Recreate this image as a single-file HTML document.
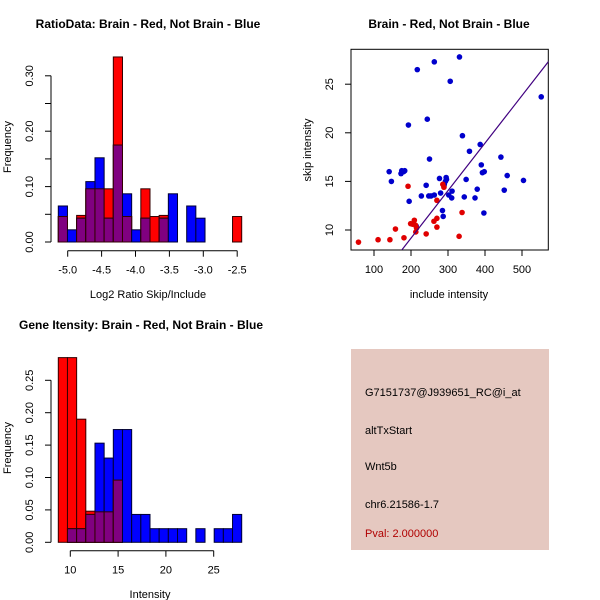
<!DOCTYPE html>
<html><head><meta charset="utf-8"><style>
html,body{margin:0;padding:0;background:#fff;}
svg{display:block;font-family:"Liberation Sans",sans-serif;}
</style></head><body>
<svg id="c" width="600" height="600" viewBox="0 0 600 600">
<rect x="0" y="0" width="600" height="600" fill="#fff"/>
<g id="p1"></g>
<g id="p2"></g>
<g id="p3"></g>
<g id="p4">
<rect x="351" y="349" width="198" height="201" fill="#e5c8c0"/>
<text x="365" y="396" font-size="11" fill="#000">G7151737@J939651_RC@i_at</text>
<text x="365" y="434" font-size="11" fill="#000">altTxStart</text>
<text x="365" y="470" font-size="11" fill="#000">Wnt5b</text>
<text x="365" y="508" font-size="11" fill="#000">chr6.21586-1.7</text>
<text x="365" y="537" font-size="11" fill="#b00000">Pval: 2.000000</text>
</g>
</svg>
<script>
// Panel 1 data: RatioData histogram (20 bins)
const ratioRed  = [0.046,0,0.048,0.096,0.096,0.096,0.334,0.046,0,0.096,0.046,0.048,0,0,0,0,0,0,0,0.046];
const ratioBlue = [0.065,0.022,0.043,0.109,0.152,0.043,0.175,0.087,0.022,0.043,0,0.043,0.087,0,0.065,0.043,0,0,0,0];
const ratioXTicks = [-5.0,-4.5,-4.0,-3.5,-3.0,-2.5];
const ratioYTicks = [0,0.05,0.10,0.15,0.20,0.25,0.30];
const ratioYLabels = ["0.00","","0.10","","0.20","","0.30"];
// Panel 2 data: scatter
const blueX = [331,263,217,306,552,244,193,339,387,358,443,250,390,141,175,183,173,180,398,393,460,147,277,295,296,293,349,504,241,290,289,452,379,311,280,228,248,254,263,302,310,344,373,195,285,287,397,214];
const blueY = [27.8,27.3,26.5,25.3,23.7,21.4,20.8,19.7,18.8,18.1,17.5,17.3,16.7,16.0,16.1,16.1,15.8,16.0,16.0,15.9,15.6,15.0,15.3,15.4,15.2,15.0,15.2,15.1,14.6,14.7,14.5,14.1,14.2,14.0,13.8,13.5,13.5,13.5,13.6,13.6,13.3,13.4,13.3,12.95,12.0,11.4,11.75,10.4];
const redX = [192,286,289,270,270,338,262,270,209,199,204,212,215,213,158,241,330,181,111,143,58];
const redY = [14.5,14.7,14.4,13.05,11.2,11.8,10.9,10.3,11.0,10.65,10.6,10.5,10.2,9.8,10.1,9.6,9.35,9.2,9.0,9.0,8.75];
const fitLine = [-0.62, 0.0489];
const scXTicks = [100,200,300,400,500];
const scYTicks = [10,15,20,25];
// Panel 3 data: intensity histogram (20 bins)
const intRed  = [0.285,0.285,0.19,0.048,0.047,0.047,0.096,0,0,0,0,0,0,0,0,0,0,0,0,0];
const intBlue = [0,0.021,0.021,0.043,0.153,0.13,0.174,0.174,0.043,0.043,0.021,0.021,0.021,0.021,0,0.021,0,0.021,0.021,0.043];
const intXTicks = [10,15,20,25];
const intYTicks = [0,0.05,0.10,0.15,0.20,0.25];
const intYLabels = ["0.00","0.05","0.10","0.15","0.20","0.25"];

const NS="http://www.w3.org/2000/svg";
function mk(parent,tag,attrs,txt){const e=document.createElementNS(NS,tag);for(const k in attrs)e.setAttribute(k,attrs[k]);if(txt!==undefined)e.textContent=txt;parent.appendChild(e);return e;}

function hist(g,red,blue,o){
  const y=v=>o.y0-v*o.yk;
  const x=v=>o.xa+(v-o.xv0)*o.xk;
  for(let i=0;i<red.length;i++){
    const bx=o.b0+i*o.bw;
    const r=red[i], b=blue[i], m=Math.min(r,b);
    if(r>0){const e=mk(g,'rect',{x:bx,y:y(r),width:o.bw,height:r*o.yk,fill:'#ff0000',stroke:'#300',"stroke-width":1});
      
      }
    if(b>0){const e=mk(g,'rect',{x:bx,y:y(b),width:o.bw,height:b*o.yk,fill:'#0000ff',stroke:'#003',"stroke-width":1});
      
      }
    if(m>0){const e=mk(g,'rect',{x:bx,y:y(m),width:o.bw,height:m*o.yk,fill:'#800080',stroke:'#300',"stroke-width":1});
      
      }
  }
  const ya=mk(g,'line',{x1:o.yaxX,x2:o.yaxX,y1:y(o.yt[0]),y2:y(o.yt[o.yt.length-1]),stroke:'#000'});
  
  
  o.yt.forEach((v,i)=>{mk(g,'line',{x1:o.yaxX-6,x2:o.yaxX,y1:y(v),y2:y(v),stroke:'#000'});
    if(o.yl[i]){const lx=o.yaxX-18;const t=mk(g,'text',{x:lx,y:y(v),"font-size":11,"text-anchor":"middle",transform:`rotate(-90 ${lx} ${y(v)})`},o.yl[i]);
      
      }});
  const xa=mk(g,'line',{x1:x(o.xt[0]),x2:x(o.xt[o.xt.length-1]),y1:o.xaxY,y2:o.xaxY,stroke:'#000'});
  
  
  o.xt.forEach(v=>{mk(g,'line',{x1:x(v),x2:x(v),y1:o.xaxY,y2:o.xaxY+6,stroke:'#000'});
    const t=mk(g,'text',{x:x(v),y:o.xaxY+23,"font-size":11,"text-anchor":"middle"},o.fmt(v));
    
    });
}

const p1=document.getElementById('p1');
hist(p1,ratioRed,ratioBlue,{y0:242,yk:554,b0:58.3,bw:9.17,xa:67.7,xv0:-5,xk:67.8,yaxX:51,xaxY:250.7,yt:ratioYTicks,yl:ratioYLabels,xt:ratioXTicks,fmt:v=>v.toFixed(1)});
let t;
t=mk(p1,'text',{x:148,y:28,"font-size":12,"font-weight":"bold","text-anchor":"middle"},'RatioData: Brain - Red, Not Brain - Blue');


t=mk(p1,'text',{x:148,y:298,"font-size":11,"text-anchor":"middle"},'Log2 Ratio Skip/Include');


t=mk(p1,'text',{x:11,y:147,"font-size":11,"text-anchor":"middle",transform:'rotate(-90 11 147)'},'Frequency');



const p3=document.getElementById('p3');
hist(p3,intRed,intBlue,{y0:542.3,yk:648,b0:58.3,bw:9.17,xa:70.3,xv0:10,xk:9.56,yaxX:51,xaxY:550.7,yt:intYTicks,yl:intYLabels,xt:intXTicks,fmt:v=>String(v)});
t=mk(p3,'text',{x:141,y:329,"font-size":12,"font-weight":"bold","text-anchor":"middle"},'Gene Itensity: Brain - Red, Not Brain - Blue');


t=mk(p3,'text',{x:150,y:598,"font-size":11,"text-anchor":"middle"},'Intensity');


t=mk(p3,'text',{x:11,y:448,"font-size":11,"text-anchor":"middle",transform:'rotate(-90 11 448)'},'Frequency');



// scatter
const p2=document.getElementById('p2');
const L=351,R=548.3,T=49.3,B=250;
const sx=v=>374+(v-100)*0.37;
const sy=v=>230-(v-10)*9.72;
const box=mk(p2,'rect',{x:L,y:T,width:R-L,height:B-T,fill:'none',stroke:'#000'});


const defs=mk(p2,'clipPath',{id:'clp'});mk(defs,'rect',{x:L,y:T,width:R-L,height:B-T});
blueX.forEach((v,i)=>{const c=mk(p2,'circle',{cx:sx(v),cy:sy(blueY[i]),r:2.8,fill:'#0000cc'});
  
  });
redX.forEach((v,i)=>{const c=mk(p2,'circle',{cx:sx(v),cy:sy(redY[i]),r:2.8,fill:'#e00000'});
  
  });
const xa0=0,xa1=700;
const fl=mk(p2,'line',{x1:sx(xa0),y1:sy(fitLine[0]+fitLine[1]*xa0),x2:sx(xa1),y2:sy(fitLine[0]+fitLine[1]*xa1),stroke:'#400080',"stroke-width":1.2,"clip-path":"url(#clp)"});


scXTicks.forEach(v=>{mk(p2,'line',{x1:sx(v),x2:sx(v),y1:B,y2:B+6,stroke:'#000'});
  const tt=mk(p2,'text',{x:sx(v),y:B+23,"font-size":11,"text-anchor":"middle"},String(v));
  
  });
scYTicks.forEach(v=>{mk(p2,'line',{x1:L-6,x2:L,y1:sy(v),y2:sy(v),stroke:'#000'});
  const lx=L-18;
  const tt=mk(p2,'text',{x:lx,y:sy(v),"font-size":11,"text-anchor":"middle",transform:`rotate(-90 ${lx} ${sy(v)})`},String(v));
  
  });
t=mk(p2,'text',{x:449,y:28,"font-size":12,"font-weight":"bold","text-anchor":"middle"},'Brain - Red, Not Brain - Blue');


t=mk(p2,'text',{x:449,y:298,"font-size":11,"text-anchor":"middle"},'include intensity');


t=mk(p2,'text',{x:311,y:150,"font-size":11,"text-anchor":"middle",transform:'rotate(-90 311 150)'},'skip intensity');


</script>
</body></html>
